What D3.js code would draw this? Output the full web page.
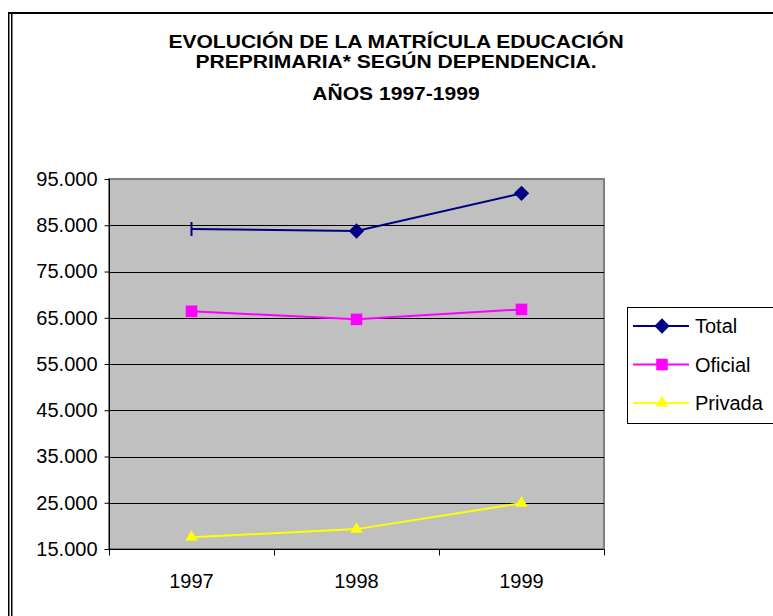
<!DOCTYPE html>
<html>
<head>
<meta charset="utf-8">
<script src="https://cdn.jsdelivr.net/npm/d3@7"></script>
<style>
  body { margin: 0; background: #fff; }
  svg { display: block; font-family: "Liberation Sans", Arial, sans-serif; }
  .axis path, .axis line { stroke: #000; }
  .axis text { font-size: 20px; fill: #000; }
</style>
</head>
<body>
<svg id="chart" width="773" height="616"></svg>
<script>
  // data
  var years   = [ "1997" , "1998" , "1999" ];
  var total   = [ 84200 , 83750 , 91900 ];
  var oficial = [ 66400 , 64650 , 66800 ];
  var privada = [ 17550 , 19300 , 24900 ];
  var yTicks  = [ 15000 , 25000 , 35000 , 45000 , 55000 , 65000 , 75000 , 85000 , 95000 ];
  var titleLines = [ "EVOLUCIÓN DE LA MATRÍCULA EDUCACIÓN" , "PREPRIMARIA* SEGÚN DEPENDENCIA." , "AÑOS 1997-1999" ];

  var series = [
    { name : "Total" ,   values : total ,   color : "#000080" , symbol : d3.symbolDiamond2 , size : 150 },
    { name : "Oficial" , values : oficial , color : "#FF00FF" , symbol : d3.symbolSquare2 ,  size : 170 },
    { name : "Privada" , values : privada , color : "#FFFF00" , symbol : d3.symbolTriangle2 , size : 110 }
  ];

  var svg = d3.select( "#chart" );
  var plot = { left : 109 , top : 179 , right : 604 , bottom : 549 };

  var es = d3.formatLocale( { decimal : "," , thousands : "." , grouping : [ 3 ] , currency : [ "" , "" ] } );
  var fmt = es.format( ",.0f" );

  // frame of the chart object
  svg.append( "rect" ).attr( "x" , 8 ).attr( "y" , 12 ).attr( "width" , 780 ).attr( "height" , 2 ).attr( "fill" , "#000" );
  svg.append( "rect" ).attr( "x" , 8 ).attr( "y" , 12 ).attr( "width" , 1.5 ).attr( "height" , 620 ).attr( "fill" , "#000" );
  svg.append( "rect" ).attr( "x" , 11 ).attr( "y" , 14 ).attr( "width" , 1.5 ).attr( "height" , 620 ).attr( "fill" , "#000" );

  // title
  var title = svg.append( "g" ).attr( "transform" , "translate(396,0) scale(1.17,1)" );
  title.selectAll( "text" ).data( titleLines ).join( "text" )
    .attr( "x" , 0 )
    .attr( "y" , function( d , i ) { return [ 48 , 68 , 100 ][ i ]; } )
    .attr( "text-anchor" , "middle" )
    .attr( "font-size" , 18 )
    .attr( "font-weight" , "bold" )
    .text( function( d ) { return d; } );

  var x = d3.scaleBand().domain( years ).range( [ plot.left , plot.right ] ).paddingInner( 0 );
  var y = d3.scaleLinear().domain( [ 15000 , 95000 ] ).range( [ plot.bottom , plot.top ] );
  var cx = function( i ) { return x( years[ i ] ) + x.bandwidth() / 2; };

  // plot area
  svg.append( "rect" )
    .attr( "x" , plot.left ).attr( "y" , plot.top )
    .attr( "width" , plot.right - plot.left ).attr( "height" , plot.bottom - plot.top )
    .attr( "fill" , "#C0C0C0" ).attr( "stroke" , "#808080" ).attr( "stroke-width" , 2 );

  svg.append( "g" ).selectAll( "line" ).data( yTicks.slice( 1 , -1 ) ).join( "line" )
    .attr( "x1" , plot.left ).attr( "x2" , plot.right )
    .attr( "y1" , function( d ) { return Math.round( y( d ) ) + 0.5; } )
    .attr( "y2" , function( d ) { return Math.round( y( d ) ) + 0.5; } )
    .attr( "stroke" , "#000" ).attr( "stroke-width" , 1 );

  // y axis
  var yAxis = svg.append( "g" ).attr( "class" , "axis" )
    .attr( "transform" , "translate(" + ( plot.left + 0.5 ) + ",0)" )
    .call( d3.axisLeft( y ).tickValues( yTicks ).tickFormat( fmt ).tickSize( 5 ).tickPadding( 7 ) );
  yAxis.select( ".domain" ).attr( "d" , "M0," + plot.top + "V" + plot.bottom );
  yAxis.selectAll( "text" ).attr( "font-family" , null );

  // x axis
  var xAxis = svg.append( "g" ).attr( "class" , "axis" )
    .attr( "transform" , "translate(0," + ( plot.bottom + 0.5 ) + ")" )
    .call( d3.axisBottom( x ).tickSize( 0 ).tickPadding( 24 ) );
  xAxis.select( ".domain" ).attr( "d" , "M" + plot.left + ",0H" + plot.right );
  xAxis.selectAll( "text" ).attr( "font-family" , null );
  xAxis.selectAll( ".bound" ).data( years.map( function( d ) { return x( d ); } ).concat( [ plot.right ] ) ).join( "line" )
    .attr( "class" , "bound" )
    .attr( "x1" , function( d ) { return Math.round( d ) + 0.5; } )
    .attr( "x2" , function( d ) { return Math.round( d ) + 0.5; } )
    .attr( "y1" , 0 ).attr( "y2" , 6 )
    .attr( "stroke" , "#000" );

  // lines and markers
  var line = d3.line().x( function( d , i ) { return cx( i ); } ).y( function( d ) { return y( d ); } );
  series.forEach( function( s , k ) {
    svg.append( "path" ).datum( s.values )
      .attr( "d" , line ).attr( "fill" , "none" )
      .attr( "stroke" , s.color ).attr( "stroke-width" , 2 );
    svg.append( "g" ).selectAll( "path" ).data( s.values ).join( "path" )
      .attr( "transform" , function( d , i ) { return "translate(" + cx( i ) + "," + y( d ) + ")"; } )
      .attr( "d" , function( d , i ) {
        // first Total point shows as a short vertical bar in the reference
        if( k === 0 && i === 0 ) return "M-1,-7H1V7H-1Z";
        return d3.symbol( s.symbol , s.size )();
      } )
      .attr( "fill" , s.color );
  } );

  // legend
  var legend = svg.append( "g" );
  legend.append( "rect" )
    .attr( "x" , 627.5 ).attr( "y" , 307.5 ).attr( "width" , 160 ).attr( "height" , 116 )
    .attr( "fill" , "#fff" ).attr( "stroke" , "#000" );
  var item = legend.selectAll( "g" ).data( series ).join( "g" )
    .attr( "transform" , function( d , i ) { return "translate(0," + ( 326 + i * 38.5 ) + ")"; } );
  item.append( "line" ).attr( "x1" , 633 ).attr( "x2" , 689 )
    .attr( "stroke" , function( d ) { return d.color; } ).attr( "stroke-width" , 2 );
  item.append( "path" )
    .attr( "transform" , "translate(662,0)" )
    .attr( "d" , function( d ) { return d3.symbol( d.symbol , d.size )(); } )
    .attr( "fill" , function( d ) { return d.color; } );
  item.append( "text" ).attr( "x" , 695 ).attr( "dy" , "0.35em" )
    .attr( "font-size" , 20 )
    .text( function( d ) { return d.name; } );
</script>
</body>
</html>
